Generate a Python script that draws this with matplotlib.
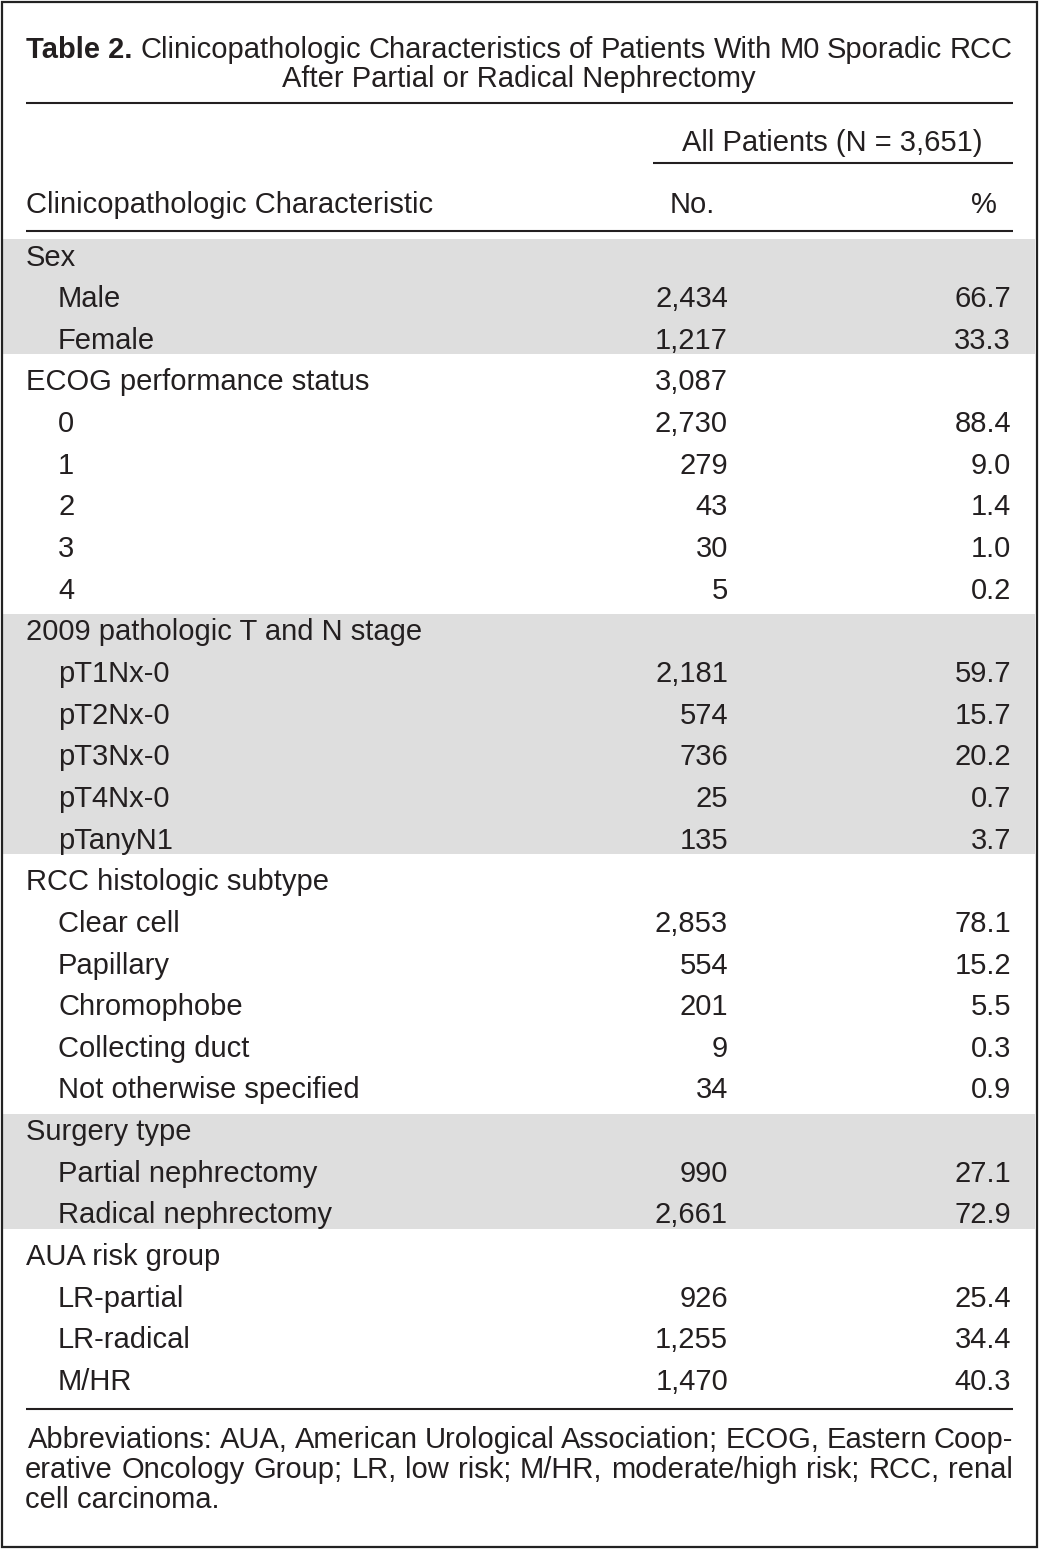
import matplotlib
matplotlib.use("Agg")
import matplotlib.pyplot as plt
from matplotlib.patches import Rectangle

# ---------------- data ----------------
row_labels = [
    "Sex", "Male", "Female",
    "ECOG performance status", "0", "1", "2", "3", "4",
    "2009 pathologic T and N stage", "pT1Nx-0", "pT2Nx-0", "pT3Nx-0", "pT4Nx-0", "pTanyN1",
    "RCC histologic subtype", "Clear cell", "Papillary", "Chromophobe", "Collecting duct",
    "Not otherwise specified",
    "Surgery type", "Partial nephrectomy", "Radical nephrectomy",
    "AUA risk group", "LR-partial", "LR-radical", "M/HR",
]
row_indent = [0, 1, 1,
              0, 1, 1, 1, 1, 1,
              0, 1, 1, 1, 1, 1,
              0, 1, 1, 1, 1, 1,
              0, 1, 1,
              0, 1, 1, 1]
counts = [None, 2434, 1217,
          3087, 2730, 279, 43, 30, 5,
          None, 2181, 574, 736, 25, 135,
          None, 2853, 554, 201, 9, 34,
          None, 990, 2661,
          None, 926, 1255, 1470]
percents = [None, 66.7, 33.3,
            None, 88.4, 9.0, 1.4, 1.0, 0.2,
            None, 59.7, 15.7, 20.2, 0.7, 3.7,
            None, 78.1, 15.2, 5.5, 0.3, 0.9,
            None, 27.1, 72.9,
            None, 25.4, 34.4, 40.3]
shaded_groups = [(0, 2), (9, 14), (21, 23)]

title_bold = "Table 2."
title_line1 = "Clinicopathologic Characteristics of Patients With M0 Sporadic RCC"
title_line2 = "After Partial or Radical Nephrectomy"
spanner = "All Patients (N = 3,651)"
col_headers = ["Clinicopathologic Characteristic", "No.", "%"]
footnote_lines = [
    "Abbreviations: AUA, American Urological Association; ECOG, Eastern Coop-",
    "erative Oncology Group; LR, low risk; M/HR, moderate/high risk; RCC, renal",
    "cell carcinoma.",
]

# ---------------- layout ----------------
W, H = 1039, 1549
TXT = "#231f20"
SHADE = "#dedede"
FS = 21
FAM = ["Liberation Sans", "DejaVu Sans"]
plt.rcParams["font.family"] = FAM

fig = plt.figure(figsize=(W / 100, H / 100), dpi=100)
ax = fig.add_axes([0, 0, 1, 1])
ax.set_xlim(0, W)
ax.set_ylim(H, 0)
ax.axis("off")

XL, XR = 26, 1013
ROW0, DY = 255, 41.65
CAP = 10.5  # half cap height in px (baseline offset from visual centre)

def rowy(i):
    return ROW0 + DY * i

# outer border
ax.add_patch(Rectangle((1.5, 1.5), W - 4, H - 4, fill=False, ec="#222222", lw=1.6, zorder=5))

# shaded bands
for a, b in shaded_groups:
    top = rowy(a) - 16
    bot = rowy(b) + 16
    ax.add_patch(Rectangle((3, top), W - 7, bot - top, fc=SHADE, ec="none", zorder=0))

# rules
LW = 1.5
ax.plot([XL, XR], [103, 103], color=TXT, lw=LW, solid_capstyle="butt")
ax.plot([653, XR], [163, 163], color=TXT, lw=LW, solid_capstyle="butt")
ax.plot([XL, XR], [231, 231], color=TXT, lw=LW, solid_capstyle="butt")
ax.plot([XL, XR], [1409, 1409], color=TXT, lw=LW, solid_capstyle="butt")

renderer = fig.canvas.get_renderer()

def justify(parts, x0, x1, yc):
    """parts: list of (text, kwargs); spread words so they span x0..x1."""
    objs = []
    for t, kw in parts:
        o = ax.text(x0, yc + CAP, t, ha="left", va="baseline", fontsize=FS, color=TXT, **kw)
        objs.append(o)
    widths = [o.get_window_extent(renderer).width for o in objs]
    gap = (x1 - x0 - sum(widths)) / max(len(objs) - 1, 1)
    x = x0
    for o, w in zip(objs, widths):
        o.set_x(x)
        x += w + gap

# title
parts = [(title_bold, dict(fontweight="bold"))]
parts += [(w, {}) for w in title_line1.split()]
justify(parts, XL, XR, 47)
ax.text(519, 76 + CAP, title_line2, ha="center", va="baseline", fontsize=FS, color=TXT)

# column headers
ax.text(832, 140 + CAP, spanner, ha="center", va="baseline", fontsize=FS, color=TXT)
ax.text(XL, 202 + CAP, col_headers[0], ha="left", va="baseline", fontsize=FS, color=TXT)
ax.text(692, 202 + CAP, col_headers[1], ha="center", va="baseline", fontsize=FS, color=TXT)
ax.text(984, 202 + CAP, col_headers[2], ha="center", va="baseline", fontsize=FS, color=TXT)

# body
for i, lab in enumerate(row_labels):
    y = rowy(i) + CAP
    x = 58 if row_indent[i] else XL
    ax.text(x, y, lab, ha="left", va="baseline", fontsize=FS, color=TXT)
    if counts[i] is not None:
        ax.text(728, y, f"{counts[i]:,}", ha="right", va="baseline", fontsize=FS, color=TXT)
    if percents[i] is not None:
        ax.text(1011, y, f"{percents[i]:.1f}", ha="right", va="baseline", fontsize=FS, color=TXT)

# footnote
justify([(w, {}) for w in footnote_lines[0].split()], 28, XR, 1438)
justify([(w, {}) for w in footnote_lines[1].split()], 25, XR, 1468)
ax.text(25, 1497 + CAP, footnote_lines[2], ha="left", va="baseline", fontsize=FS, color=TXT)

fig.savefig("out.png", dpi=100, facecolor="white")
